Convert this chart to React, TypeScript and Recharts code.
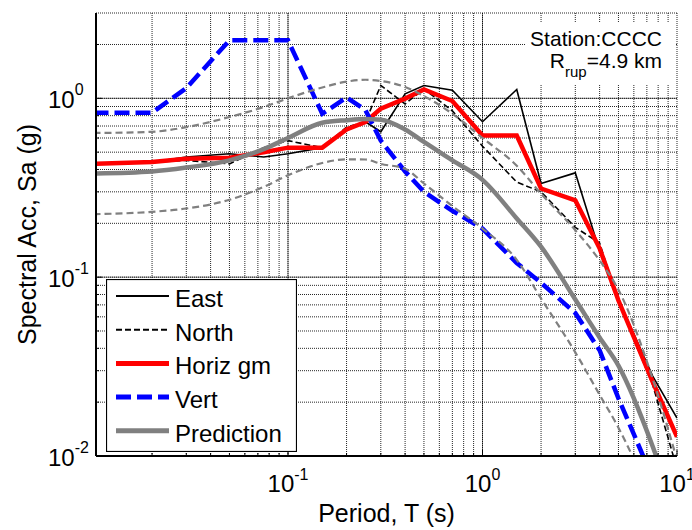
import React from 'react';
import { LineChart, Line, XAxis, YAxis, CartesianGrid, ReferenceLine } from 'recharts';

// ---- data ----
const periods = [0.01, 0.02, 0.03, 0.05, 0.075, 0.1, 0.15, 0.2, 0.25, 0.3, 0.4, 0.5, 0.7, 1.0, 1.5, 2, 3, 4, 5, 7.5, 10];
const eastSa = [0.43, 0.44, 0.47, 0.49, 0.47, 0.49, 0.53, 0.66, 0.74, 0.65, 1.06, 1.18, 1.11, 0.74, 1.12, 0.334, 0.383, 0.14, 0.075, 0.028, 0.0163];
const northSa = [0.43, 0.44, 0.45, 0.43, 0.53, 0.58, 0.53, 0.69, 0.74, 1.18, 0.93, 1.13, 0.85, 0.54, 0.34, 0.30, 0.19, 0.155, 0.073, 0.025, 0.0085];
const horizSa = [0.43, 0.44, 0.46, 0.465, 0.5, 0.53, 0.53, 0.67, 0.737, 0.876, 0.996, 1.12, 0.966, 0.62, 0.62, 0.313, 0.269, 0.145, 0.074, 0.026, 0.0128];
const vertSa = [0.83, 0.83, 1.14, 2.11, 2.11, 2.11, 0.82, 1.01, 0.86, 0.58, 0.39, 0.30, 0.235, 0.187, 0.12, 0.093, 0.063, 0.039, 0.021, 0.0075, 0.004];
const predSa = [0.38, 0.39, 0.41, 0.45, 0.52, 0.60, 0.73, 0.755, 0.766, 0.76, 0.67, 0.57, 0.45, 0.35, 0.213, 0.148, 0.075, 0.046, 0.032, 0.0113, 0.0045];
const predHiSa = [0.64, 0.65, 0.69, 0.786, 0.894, 1.0, 1.15, 1.24, 1.27, 1.25, 1.157, 1.03, 0.82, 0.6, 0.42, 0.293, 0.183, 0.124, 0.085, 0.027, 0.0095];
const predLoSa = [0.225, 0.232, 0.242, 0.271, 0.32, 0.371, 0.435, 0.456, 0.455, 0.43, 0.404, 0.334, 0.25, 0.187, 0.125, 0.076, 0.038, 0.022, 0.0144, 0.0055, 0.0025];

const xTicks = [0.02, 0.03, 0.04, 0.05, 0.06, 0.07, 0.08, 0.09, 0.1, 0.2, 0.3, 0.4, 0.5, 0.6, 0.7, 0.8, 0.9, 1, 2, 3, 4, 5, 6, 7, 8, 9, 10];
const yTicks = [0.01, 0.02, 0.03, 0.04, 0.05, 0.06, 0.07, 0.08, 0.09, 0.1, 0.2, 0.3, 0.4, 0.5, 0.6, 0.7, 0.8, 0.9, 1, 2];
const xDecades = [0.1, 1];
const yDecades = [0.1, 1];
const xDomain = [0.0103, 10];
const yDomain = [0.01, 3];

const legendLabels = ['East', 'North', 'Horiz gm', 'Vert', 'Prediction'];
const stationLine = 'Station:CCCC';
const rupLabel = { main: 'R', sub: 'rup', rest: '=4.9 km' };

const data = periods.map((T, i) => ({
  T,
  east: eastSa[i],
  north: northSa[i],
  horiz: horizSa[i],
  vert: vertSa[i],
  pred: predSa[i],
  predHi: predHiSa[i],
  predLo: predLoSa[i],
}));

const FONT = '"Liberation Sans", Arial, Helvetica, sans-serif';

const legendStyles = [
  { stroke: '#000000', width: 2, dash: undefined as string | undefined },
  { stroke: '#000000', width: 2, dash: '6 3' },
  { stroke: '#ff0000', width: 5, dash: undefined },
  { stroke: '#0000ff', width: 5, dash: '15 6' },
  { stroke: '#808080', width: 5, dash: undefined },
];

const isDecade = (v: number) => Math.abs(Math.log10(v) - Math.round(Math.log10(v))) < 1e-9;

function BottomTick(props: any) {
  const { x, y, payload } = props;
  const v = payload.value;
  const major = isDecade(v);
  const e = Math.round(Math.log10(v));
  return (
    <g>
      <line x1={x} x2={x} y1={y} y2={y - (major ? 6 : 3)} stroke="#000" strokeWidth={1} />
      {major && (
        <text x={x} y={y + 36} textAnchor="middle" fontFamily={FONT} fontSize={24} fill="#000">
          10<tspan dy={-12} fontSize={16}>{e}</tspan>
        </text>
      )}
    </g>
  );
}

function TopTick(props: any) {
  const { x, y, payload } = props;
  const major = isDecade(payload.value);
  return <line x1={x} x2={x} y1={y} y2={y + (major ? 6 : 3)} stroke="#000" strokeWidth={1} />;
}

function LeftTick(props: any) {
  const { x, y, payload } = props;
  const v = payload.value;
  const major = isDecade(v);
  const e = Math.round(Math.log10(v));
  return (
    <g>
      <line x1={x} x2={x + (major ? 6 : 3)} y1={y} y2={y} stroke="#000" strokeWidth={1} />
      {major && (
        <text x={x - 48} y={y + 10} textAnchor="start" fontFamily={FONT} fontSize={24} fill="#000">
          10<tspan dy={-13} fontSize={16}>{e}</tspan>
        </text>
      )}
    </g>
  );
}

function RightTick(props: any) {
  const { x, y, payload } = props;
  const major = isDecade(payload.value);
  return <line x1={x} x2={x - (major ? 6 : 3)} y1={y} y2={y} stroke="#000" strokeWidth={1} />;
}

export default function App() {
  const legendRowY = (i: number) => 17 + 33.7 * i;
  return (
    <div style={{ position: 'absolute', left: 0, top: 0, width: 692, height: 530, background: '#fff' }}>
      <LineChart
        width={692}
        height={530}
        data={data}
        margin={{ top: 13, right: 15, bottom: 0, left: 0 }}
        style={{ fontFamily: FONT }}
      >
        <CartesianGrid stroke="#000" strokeOpacity={0.85} strokeDasharray="1 1" strokeWidth={1} />
        {xDecades.map((v) => (
          <ReferenceLine key={'xd' + v} x={v} stroke="#000" strokeOpacity={0.5} strokeWidth={1} />
        ))}
        {yDecades.map((v) => (
          <ReferenceLine key={'yd' + v} y={v} stroke="#000" strokeOpacity={0.5} strokeWidth={1} />
        ))}
        <XAxis
          xAxisId={0}
          dataKey="T"
          type="number"
          scale="log"
          domain={xDomain}
          allowDataOverflow
          ticks={xTicks}
          interval={0}
          tickSize={0}
          tickMargin={0}
          tickLine={false}
          tick={<BottomTick />}
          height={74}
          axisLine={{ stroke: '#000', strokeWidth: 2 }}
          label={{ value: 'Period, T (s)', position: 'insideBottom', offset: 8, fontSize: 25, fill: '#000', fontFamily: FONT }}
        />
        <XAxis
          xAxisId="top"
          orientation="top"
          dataKey="T"
          type="number"
          scale="log"
          domain={xDomain}
          allowDataOverflow
          ticks={xTicks}
          interval={0}
          tickSize={0}
          tickMargin={0}
          tickLine={false}
          tick={<TopTick />}
          height={0}
          axisLine={{ stroke: '#000', strokeWidth: 2 }}
        />
        <YAxis
          yAxisId={0}
          type="number"
          scale="log"
          domain={yDomain}
          allowDataOverflow
          ticks={yTicks}
          interval={0}
          tickSize={0}
          tickMargin={0}
          tickLine={false}
          tick={<LeftTick />}
          width={96}
          axisLine={{ stroke: '#000', strokeWidth: 2 }}
          label={{
            value: 'Spectral Acc, Sa (g)',
            angle: -90,
            position: 'insideLeft',
            offset: 27,
            fontSize: 25,
            fill: '#000',
            fontFamily: FONT,
            style: { textAnchor: 'middle' },
          }}
        />
        <YAxis
          yAxisId="right"
          orientation="right"
          type="number"
          scale="log"
          domain={yDomain}
          allowDataOverflow
          ticks={yTicks}
          interval={0}
          tickSize={0}
          tickMargin={0}
          tickLine={false}
          tick={<RightTick />}
          width={0}
          axisLine={{ stroke: '#000', strokeWidth: 2 }}
        />
        <Line xAxisId="top" yAxisId="right" dataKey="horiz" stroke="none" dot={false} activeDot={false} legendType="none" isAnimationActive={false} />
        <Line dataKey="east" name="East" stroke="#000" strokeWidth={1.6} dot={false} isAnimationActive={false} />
        <Line dataKey="north" name="North" stroke="#000" strokeWidth={1.6} strokeDasharray="6 3" dot={false} isAnimationActive={false} />
        <Line dataKey="horiz" name="Horiz gm" stroke="#ff0000" strokeWidth={4.5} dot={false} isAnimationActive={false} />
        <Line dataKey="vert" name="Vert" stroke="#0000ff" strokeWidth={4.5} strokeDasharray="15 6" dot={false} isAnimationActive={false} />
        <Line dataKey="pred" name="Prediction" type="monotone" stroke="#808080" strokeWidth={4.5} dot={false} isAnimationActive={false} />
        <Line dataKey="predHi" type="monotone" stroke="#808080" strokeWidth={2.2} strokeDasharray="7 4" dot={false} legendType="none" isAnimationActive={false} />
        <Line dataKey="predLo" type="monotone" stroke="#808080" strokeWidth={2.2} strokeDasharray="7 4" dot={false} legendType="none" isAnimationActive={false} />
      </LineChart>

      {/* station annotation */}
      <svg width={692} height={530} style={{ position: 'absolute', left: 0, top: 0, pointerEvents: 'none' }}>
        <rect x={525} y={23} width={150} height={62} fill="#fff" />
        <text x={662} y={46} textAnchor="end" fontFamily={FONT} fontSize={21} fill="#000">{stationLine}</text>
        <text x={662} y={68} textAnchor="end" fontFamily={FONT} fontSize={21} fill="#000">
          {rupLabel.main}
          <tspan dy={9} fontSize={15}>{rupLabel.sub}</tspan>
          <tspan dy={-9}>{rupLabel.rest}</tspan>
        </text>
      </svg>

      {/* legend */}
      <svg width={191} height={173} style={{ position: 'absolute', left: 106, top: 279, pointerEvents: 'none' }}>
        <rect x={0.5} y={0.5} width={190} height={172} fill="#fff" stroke="#000" strokeWidth={1.2} />
        {legendLabels.map((lab, i) => {
          const s = legendStyles[i];
          const yy = legendRowY(i);
          return (
            <g key={lab}>
              <line x1={10} x2={63} y1={yy} y2={yy} stroke={s.stroke} strokeWidth={s.width} strokeDasharray={s.dash} />
              <text x={69} y={yy + 11} fontFamily={FONT} fontSize={24} fill="#000">{lab}</text>
            </g>
          );
        })}
      </svg>
    </div>
  );
}
